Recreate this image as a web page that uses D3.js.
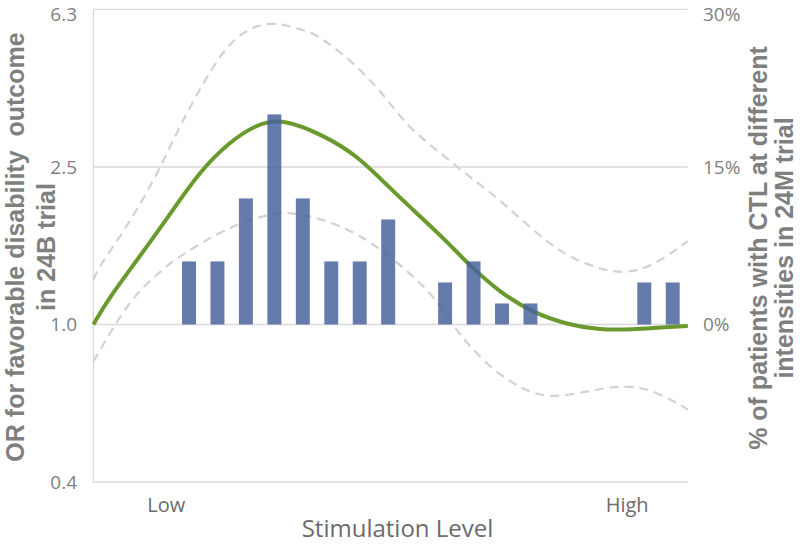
<!DOCTYPE html>
<html><head><meta charset="utf-8">
<script src="https://cdn.jsdelivr.net/npm/d3@7/dist/d3.min.js"></script>
<style>body{margin:0;background:#fff}svg{display:block}</style>
</head><body>
<svg id="chart" width="800" height="545"></svg>
<script>
// ---- data ----
const barLevels = [1, 2, 3, 4, 5, 6, 7, 8, 10, 11, 12, 13, 17, 18];
const barPct    = [6, 6, 12, 20, 12, 6, 6, 10, 4, 6, 2, 2, 4, 4];

const fitLevels = [-2.36, -1.84, -0.72, 0.45, 1.39, 2.44, 3.38, 4.23, 5.72, 6.91, 8.07, 9.24, 10.17, 10.76, 11.93, 13.10, 14.28, 15.45, 16.62, 17.56, 18.53];
const fitOR     = [1.000, 1.160, 1.488, 1.952, 2.440, 2.900, 3.200, 3.320, 3.010, 2.673, 2.206, 1.842, 1.593, 1.432, 1.203, 1.070, 1.000, 0.968, 0.972, 0.983, 0.991];

const upperLevels = [-2.36, -2.01, -1.31, -0.14, 0.61, 1.56, 2.43, 3.32, 4.09, 5.11, 5.61, 6.94, 7.88, 8.70, 9.82, 10.88, 11.93, 13.69, 14.87, 16.26, 17.38, 18.53];
const upperOR     = [1.299, 1.460, 1.705, 2.370, 3.109, 4.159, 5.197, 5.700, 5.800, 5.520, 5.341, 4.486, 3.774, 3.146, 2.715, 2.352, 2.069, 1.577, 1.420, 1.330, 1.414, 1.624];

const lowerLevels = [-2.36, -1.67, -0.86, 0.21, 0.68, 2.21, 3.61, 4.55, 5.72, 6.89, 8.07, 9.00, 9.59, 10.30, 10.76, 11.64, 12.72, 13.65, 15.01, 16.35, 17.43, 18.53];
const lowerOR     = [0.806, 0.983, 1.203, 1.404, 1.488, 1.738, 1.890, 1.930, 1.842, 1.705, 1.488, 1.299, 1.179, 0.990, 0.899, 0.770, 0.685, 0.650, 0.678, 0.706, 0.678, 0.610];

const orTicks  = [0.4, 1, 2.5, 6.25];
const pctTicks = [0, 15, 30];
const xLabelNames  = ["Low", "High"];
const xLabelLevels = [0.2, 16.4];

const leftTitle  = ["OR for favorable disability  outcome", "in 24B trial"];
const rightTitle = ["% of patients with CTL at different", "intensities in 24M trial"];
const xTitle = "Stimulation Level";

// ---- layout ----
const L = 93.4, R = 687.8, T = 9.4, B = 482;
const svg = d3.select("#chart");

const x = d3.scaleLinear().domain([-2.36, 18.53]).range([L, R]);
const yOR = d3.scaleLog().domain([0.4, 6.25]).range([B, T]);
const yPct = d3.scaleLinear().domain([-15, 30]).range([B, T]);

// gridlines
svg.append("g").selectAll("line").data(orTicks).join("line")
  .attr("x1", L).attr("x2", R)
  .attr("y1", d => yOR(d)).attr("y2", d => yOR(d))
  .attr("stroke", "#d9d9d9").attr("stroke-width", 1.4);
svg.append("line").attr("x1", L).attr("x2", L).attr("y1", T).attr("y2", B)
  .attr("stroke", "#d9d9d9").attr("stroke-width", 1.4);

// left axis labels
const fmt = d3.format(".1f");
svg.append("g").selectAll("text").data(orTicks).join("text")
  .attr("x", 77).attr("y", d => Math.max(yOR(d), 14)).attr("dy", "0.35em")
  .attr("text-anchor", "end")
  .attr("font-family", "'Open Sans', sans-serif").attr("font-size", 19)
  .attr("fill", "#7f7f7f").text(d => fmt(d));

// right axis labels
svg.append("g").selectAll("text").data(pctTicks).join("text")
  .attr("x", 703).attr("y", d => Math.max(yPct(d), 14)).attr("dy", "0.35em")
  .attr("text-anchor", "start")
  .attr("font-family", "'Open Sans', sans-serif").attr("font-size", 19)
  .attr("fill", "#7f7f7f").text(d => d + "%");

// curves
const lineGen = d3.line().x(d => x(d[0])).y(d => yOR(d[1])).curve(d3.curveBasis);
const upper = upperLevels.map((l, i) => [l, upperOR[i]]);
const lower = lowerLevels.map((l, i) => [l, lowerOR[i]]);
const fit = fitLevels.map((l, i) => [l, fitOR[i]]);

[upper, lower].forEach(pts => {
  svg.append("path").attr("d", lineGen(pts)).attr("fill", "none")
    .attr("stroke", "#d2d2d2").attr("stroke-width", 2.2)
    .attr("stroke-dasharray", "9,6");
});
svg.append("path").attr("d", lineGen(fit)).attr("fill", "none")
  .attr("stroke", "#6a9a2e").attr("stroke-width", 4).attr("stroke-linecap", "butt");

// bars
const bw = (x(1) - x(0)) * 0.49;
svg.append("g").selectAll("rect").data(barLevels).join("rect")
  .attr("x", d => x(d) - bw / 2)
  .attr("width", bw)
  .attr("y", (d, i) => yPct(barPct[i]))
  .attr("height", (d, i) => yPct(0) - yPct(barPct[i]))
  .attr("fill", "#45609a").attr("fill-opacity", 0.83);

// x labels
svg.append("g").selectAll("text").data(xLabelNames).join("text")
  .attr("x", (d, i) => x(xLabelLevels[i])).attr("y", 511.5)
  .attr("text-anchor", "middle")
  .attr("font-family", "'Open Sans', sans-serif").attr("font-size", 20)
  .attr("fill", "#6b6b6b").text(d => d);

svg.append("text").attr("x", 397.5).attr("y", 537)
  .attr("text-anchor", "middle")
  .attr("font-family", "'Open Sans', sans-serif").attr("font-size", 24)
  .attr("fill", "#6b6b6b").text(xTitle);

// axis titles
const lt = svg.append("text").attr("transform", "translate(0,247) rotate(-90)")
  .attr("text-anchor", "middle")
  .attr("font-family", "'Liberation Sans', Arial, sans-serif").attr("font-size", 25)
  .attr("font-weight", "bold").attr("fill", "#7f7f7f")
  .attr("xml:space", "preserve");
lt.selectAll("tspan").data(leftTitle).join("tspan")
  .attr("x", 0).attr("y", (d, i) => 24 + i * 31).text(d => d);

const rt = svg.append("text").attr("transform", "translate(0,248) rotate(-90)")
  .attr("text-anchor", "middle")
  .attr("font-family", "'Liberation Sans', Arial, sans-serif").attr("font-size", 25)
  .attr("font-weight", "bold").attr("fill", "#7f7f7f");
rt.selectAll("tspan").data(rightTitle).join("tspan")
  .attr("x", 0).attr("y", (d, i) => 767 + i * 26).text(d => d);
</script>
</body></html>
